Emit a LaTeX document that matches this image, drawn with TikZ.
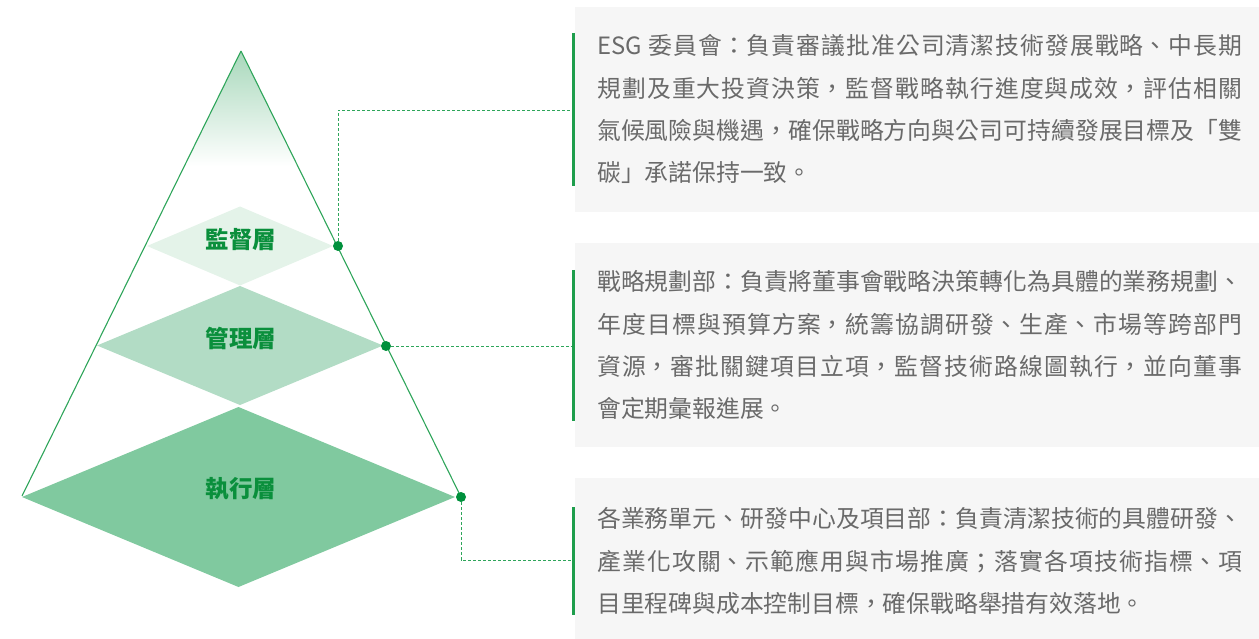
\documentclass[tikz,border=0pt]{standalone}
\usepackage{fontspec}
\newfontfamily\cjk{Noto Sans CJK TC}
\usetikzlibrary{shapes.geometric}
\XeTeXlinebreaklocale "zh"
\XeTeXlinebreakskip=0pt plus 2pt
\definecolor{lineG}{HTML}{2EA55A}
\definecolor{dotG}{HTML}{00903C}
\definecolor{barG}{HTML}{1E9E4C}
\definecolor{labG}{HTML}{0A8F3C}
\definecolor{diaA}{HTML}{E4F3E9}
\definecolor{diaB}{HTML}{B2DCC5}
\definecolor{diaC}{HTML}{80C99F}
\definecolor{boxbg}{HTML}{F6F6F6}
\definecolor{txt}{HTML}{6A6A6A}
\definecolor{gradG}{HTML}{A8D8BB}
\tikzset{
  tri/.style={draw=lineG, line width=1.1pt},
  dia/.style={diamond, inner sep=0pt, outer sep=0pt, draw=none},
  dotnode/.style={circle, fill=dotG, inner sep=0pt, minimum size=10pt},
  conn/.style={draw=lineG, line width=0.9pt, dash pattern=on 3pt off 2pt},
  bar/.style={draw=barG, line width=3pt},
  boxback/.style={fill=boxbg, draw=none},
  desc/.style={anchor=north west, inner sep=0pt, align=justify, text width=645pt, text=txt,
    font=\cjk\fontsize{23.8}{42.3}\selectfont},
  lab/.style={text=labG, inner sep=0pt, font=\cjk\bfseries\fontsize{23.5}{28}\selectfont}
}
\begin{document}
\begin{tikzpicture}[x=1pt,y=-1pt]
\useasboundingbox (0,0) rectangle (1259,639);
% text box backgrounds
\path[boxback] (575,7) rectangle (1259,212);
\path[boxback] (575,243) rectangle (1259,447);
\path[boxback] (575,478) rectangle (1259,639);
% pyramid gradient
\coordinate (apex) at (241,51);
\coordinate (bl) at (22,496);
\coordinate (br) at (461,497);
\begin{scope}
\clip (apex) -- (bl) -- (br) -- cycle;
\shade[top color=gradG, bottom color=white] (0,51) rectangle (500,166);
\end{scope}
\draw[tri] (apex) -- (bl);
\draw[tri] (apex) -- (br);
% diamonds
\node[dia, fill=diaA, minimum width=186pt, minimum height=79pt] (m1) at (240,246) {};
\node[dia, fill=diaB, minimum width=286pt, minimum height=119pt] (m2) at (240,345.5) {};
\node[dia, fill=diaC, minimum width=433pt, minimum height=180pt] (m3) at (238.5,497) {};
\node[lab] (l1) at (241,240) {監督層};
\node[lab] (l2) at (241,338) {管理層};
\node[lab] (l3) at (241,489) {執行層};
% bars
\coordinate (b1t) at (573.5,33); \coordinate (b1b) at (573.5,186);
\coordinate (b2t) at (573.5,270); \coordinate (b2b) at (573.5,421);
\coordinate (b3t) at (573.5,507); \coordinate (b3b) at (573.5,615);
\draw[bar] (b1t) -- (b1b);
\draw[bar] (b2t) -- (b2b);
\draw[bar] (b3t) -- (b3b);
% dots and connectors
\node[dotnode] (p1) at (338,246) {};
\node[dotnode] (p2) at (386,346) {};
\node[dotnode] (p3) at (461,497) {};
\coordinate (c1) at (572,110);
\coordinate (c2) at (572,346);
\coordinate (c3) at (572,560);
\draw[conn] (p1) |- (c1);
\draw[conn] (p2) -- (c2);
\draw[conn] (p3) |- (c3);
% texts
\node[desc] (t1) at (597,34.5) {ESG 委員會：負責審議批准公司清潔技術發展戰略、中長期\linebreak
規劃及重大投資決策，監督戰略執行進度與成效，評估相關\linebreak
氣候風險與機遇，確保戰略方向與公司可持續發展目標及「雙\linebreak
碳」承諾保持一致。};
\node[desc] (t2) at (597,270.5) {戰略規劃部：負責將董事會戰略決策轉化為具體的業務規劃、\linebreak
年度目標與預算方案，統籌協調研發、生產、市場等跨部門\linebreak
資源，審批關鍵項目立項，監督技術路線圖執行，並向董事\linebreak
會定期彙報進展。};
\node[desc] (t3) at (597,507.5) {各業務單元、研發中心及項目部：負責清潔技術的具體研發、\linebreak
產業化攻關、示範應用與市場推廣；落實各項技術指標、項\linebreak
目里程碑與成本控制目標，確保戰略舉措有效落地。};
\end{tikzpicture}
\end{document}
